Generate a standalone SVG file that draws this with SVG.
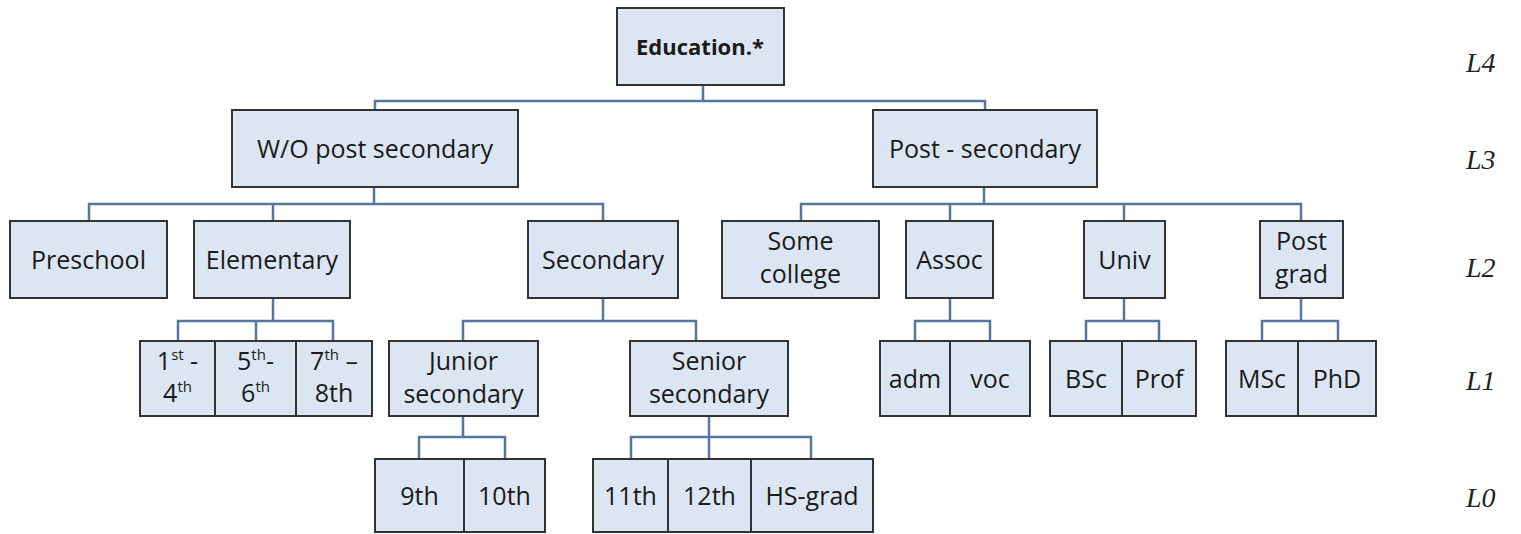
<svg xmlns="http://www.w3.org/2000/svg" width="1521" height="534" viewBox="0 0 1521 534">
<style>
.b{fill:#dce6f2;stroke:#333;stroke-width:2}
.t{font-family:"Open Sans","Liberation Sans",sans-serif;font-size:25px;fill:#1a1a1a;text-anchor:middle}
.bold{font-weight:bold;font-size:22px}
.sup{font-size:15px}
.lv{font-family:"Liberation Serif",serif;font-style:italic;font-size:28px;fill:#222}
.c{fill:none;stroke:#55779d;stroke-width:2.5}
</style>
<rect width="1521" height="534" fill="#fff"/>
<g id="connectors" class="c">
<path d="M703 85V101M375 110V101H985V110"/>
<path d="M374 187V204M89 221V204H603V221M273 204V221"/>
<path d="M984 187V204M801 221V204H1301V221M950 204V221M1124 204V221"/>
<path d="M273 298V321M178 341V321H333V341M256 321V341"/>
<path d="M603 298V321M463 341V321H696V341"/>
<path d="M950 298V321M915 341V321H990V341"/>
<path d="M1124 298V321M1086 341V321H1159V341"/>
<path d="M1301 298V321M1262 341V321H1338V341"/>
<path d="M463 416V437M419 459V437H505V459"/>
<path d="M709 416V437M631 459V437H811V459M709 437V459"/>
</g>
<g id="education"><rect class="b" x="617" y="8" width="167" height="77"/><text class="t bold" x="700" y="55">Education.*</text></g>
<g id="wo-post-secondary"><rect class="b" x="232" y="110" width="286" height="77"/><text class="t" x="375" y="158">W/O post secondary</text></g>
<g id="post-secondary"><rect class="b" x="873" y="110" width="224" height="77"/><text class="t" x="985" y="158">Post - secondary</text></g>
<g id="preschool"><rect class="b" x="10" y="221" width="157" height="77"/><text class="t" x="88.5" y="269">Preschool</text></g>
<g id="elementary"><rect class="b" x="194" y="221" width="156" height="77"/><text class="t" x="272" y="269">Elementary</text></g>
<g id="secondary"><rect class="b" x="528" y="221" width="150" height="77"/><text class="t" x="603" y="269">Secondary</text></g>
<g id="some-college"><rect class="b" x="722" y="221" width="157" height="77"/><text class="t" x="800.5" y="250">Some</text><text class="t" x="800.5" y="283">college</text></g>
<g id="assoc"><rect class="b" x="906" y="221" width="87" height="77"/><text class="t" x="949.5" y="269">Assoc</text></g>
<g id="univ"><rect class="b" x="1084" y="221" width="81" height="77"/><text class="t" x="1124.5" y="269">Univ</text></g>
<g id="post-grad"><rect class="b" x="1260" y="221" width="83" height="77"/><text class="t" x="1301.5" y="250">Post</text><text class="t" x="1301.5" y="283">grad</text></g>
<g id="g1-4"><rect class="b" x="140" y="341" width="75" height="75"/><text class="t" x="177.5" y="370">1<tspan class="sup" dy="-10">st</tspan><tspan dy="10"> -</tspan></text><text class="t" x="177.5" y="402">4<tspan class="sup" dy="-10">th</tspan></text></g>
<g id="g5-6"><rect class="b" x="215" y="341" width="81" height="75"/><text class="t" x="255.5" y="370">5<tspan class="sup" dy="-10">th</tspan><tspan dy="10">-</tspan></text><text class="t" x="255.5" y="402">6<tspan class="sup" dy="-10">th</tspan></text></g>
<g id="g7-8"><rect class="b" x="296" y="341" width="76" height="75"/><text class="t" x="334" y="370">7<tspan class="sup" dy="-10">th</tspan><tspan dy="10"> –</tspan></text><text class="t" x="334" y="402">8th</text></g>
<g id="junior-secondary"><rect class="b" x="389" y="341" width="149" height="75"/><text class="t" x="463.5" y="370">Junior</text><text class="t" x="463.5" y="403">secondary</text></g>
<g id="senior-secondary"><rect class="b" x="630" y="341" width="158" height="75"/><text class="t" x="709" y="370">Senior</text><text class="t" x="709" y="403">secondary</text></g>
<g id="adm"><rect class="b" x="880" y="341" width="70" height="75"/><text class="t" x="915" y="388">adm</text></g>
<g id="voc"><rect class="b" x="950" y="341" width="80" height="75"/><text class="t" x="990" y="388">voc</text></g>
<g id="bsc"><rect class="b" x="1050" y="341" width="72" height="75"/><text class="t" x="1086" y="388">BSc</text></g>
<g id="prof"><rect class="b" x="1122" y="341" width="74" height="75"/><text class="t" x="1159" y="388">Prof</text></g>
<g id="msc"><rect class="b" x="1226" y="341" width="72" height="75"/><text class="t" x="1262" y="388">MSc</text></g>
<g id="phd"><rect class="b" x="1298" y="341" width="78" height="75"/><text class="t" x="1337" y="388">PhD</text></g>
<g id="g9"><rect class="b" x="375" y="459" width="89" height="73"/><text class="t" x="419.5" y="505">9th</text></g>
<g id="g10"><rect class="b" x="464" y="459" width="81" height="73"/><text class="t" x="504.5" y="505">10th</text></g>
<g id="g11"><rect class="b" x="593" y="459" width="75" height="73"/><text class="t" x="630.5" y="505">11th</text></g>
<g id="g12"><rect class="b" x="668" y="459" width="83" height="73"/><text class="t" x="709.5" y="505">12th</text></g>
<g id="hs-grad"><rect class="b" x="751" y="459" width="122" height="73"/><text class="t" x="812" y="505">HS-grad</text></g>
<g id="levels">
<text class="lv" x="1466" y="72">L4</text>
<text class="lv" x="1466" y="169">L3</text>
<text class="lv" x="1466" y="277">L2</text>
<text class="lv" x="1466" y="390">L1</text>
<text class="lv" x="1466" y="507">L0</text>
</g>
</svg>
